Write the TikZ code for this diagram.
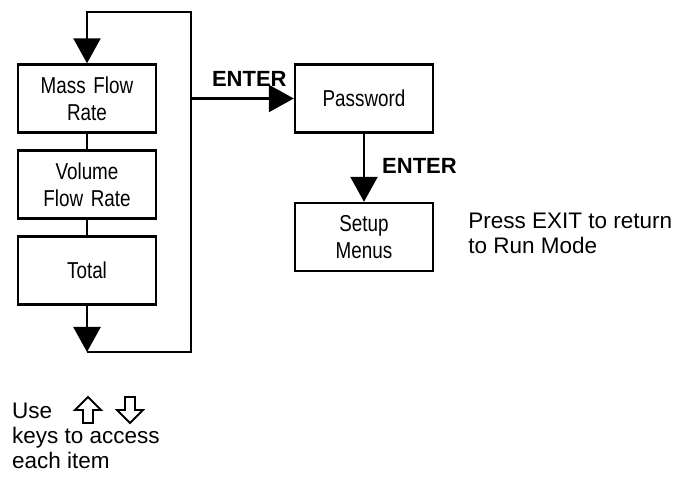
\documentclass[tikz,border=0pt]{standalone}
\usepackage{fontspec}
\setmainfont{Liberation Sans}
\newfontfamily\narrowfont[FakeStretch=0.82]{Liberation Sans}
\usetikzlibrary{arrows.meta, positioning}
\tikzstyle{menubox} = [rectangle, minimum width=138pt, minimum height=68pt, text width=130pt, align=center, draw=black, line width=2.4pt, font=\narrowfont\fontsize{23}{27}\selectfont]
\tikzstyle{keylabel} = [inner sep=0pt, font=\bfseries\fontsize{22}{26}\selectfont]
\tikzstyle{note} = [inner sep=0pt, align=left, font=\fontsize{22.5}{25}\selectfont]
\tikzstyle{link} = [line width=2.4pt]
\tikzstyle{arrow} = [line width=2.4pt, -{Triangle[width=27pt, length=25pt]}]
\tikzstyle{keyoutline} = [line width=1.8pt, line join=miter, fill=white]

\begin{document}
\begin{tikzpicture}[node distance=86pt]
	\useasboundingbox (0,0) rectangle (680pt,-478pt);

	\node (mass) [menubox] at (87pt,-98.5pt) {Mass Flow\\Rate};
	\node (volume) [menubox, below of=mass] {Volume\\Flow Rate};
	\node (total) [menubox, below of=volume] {Total};

	\draw [link] (mass) -- (volume);
	\draw [link] (volume) -- (total);

	\coordinate (loopbottom) at (87pt,-352pt);
	\coordinate (looptop) at (191pt,-12pt);

	\draw [arrow] (total) -- (loopbottom);
	\draw [arrow] (loopbottom) -| (looptop) -| (mass);

	\node (password) [menubox, node distance=277pt, right of=mass] {Password};
	\node (setup) [menubox, node distance=138.5pt, below of=password] {Setup\\Menus};

	\draw [arrow] (looptop |- password) -- (password);
	\draw [arrow] (password) -- (setup);

	\node (enter1) [keylabel, anchor=base east] at ([xshift=-7pt, yshift=11.5pt]password.west) {ENTER};
	\node (enter2) [keylabel, anchor=base west] at ([xshift=18pt, yshift=-40pt]password.south) {ENTER};

	\node (exitnote) [note, right=34pt of setup, yshift=4pt] {Press EXIT to return\\to Run Mode};
	\node (keysnote) [note, anchor=west] at (12pt,-436pt) {Use\\keys to access\\each item};

	% up and down keys
	\coordinate (upkey) at (88pt,-423pt);
	\coordinate (downkey) at (130pt,-397pt);
	\draw [keyoutline, shift={(upkey)}] (-5pt,0) -- (5pt,0) -- (5pt,13pt) -- (13pt,13pt) -- (0,26pt) -- (-13pt,13pt) -- (-5pt,13pt) -- cycle;
	\draw [keyoutline, shift={(downkey)}] (-5pt,0) -- (5pt,0) -- (5pt,-13pt) -- (13pt,-13pt) -- (0,-26pt) -- (-13pt,-13pt) -- (-5pt,-13pt) -- cycle;
\end{tikzpicture}
\end{document}
